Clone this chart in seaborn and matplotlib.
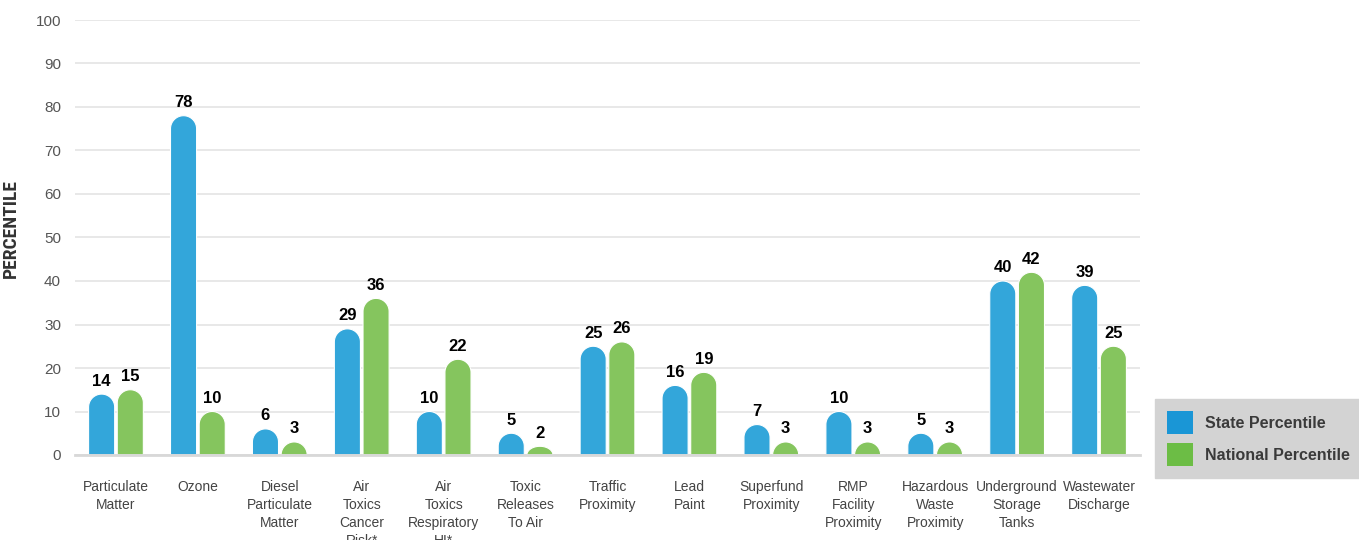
import numpy as np
import pandas as pd
import matplotlib
matplotlib.use("Agg")
import matplotlib.pyplot as plt
import seaborn as sns
from matplotlib.patches import Polygon, Patch

categories = ["Particulate\nMatter", "Ozone", "Diesel\nParticulate\nMatter",
              "Air\nToxics\nCancer\nRisk*", "Air\nToxics\nRespiratory\nHI*",
              "Toxic\nReleases\nTo Air", "Traffic\nProximity", "Lead\nPaint",
              "Superfund\nProximity", "RMP\nFacility\nProximity",
              "Hazardous\nWaste\nProximity", "Underground\nStorage\nTanks",
              "Wastewater\nDischarge"]
state_pct = [14, 78, 6, 29, 10, 5, 25, 16, 7, 10, 5, 40, 39]
national_pct = [15, 10, 3, 36, 22, 2, 26, 19, 3, 3, 3, 42, 25]
series = ["State Percentile", "National Percentile"]

df = pd.DataFrame({
    "category": categories * 2,
    "series": [series[0]] * len(categories) + [series[1]] * len(categories),
    "value": state_pct + national_pct,
})

bar_colors = {"State Percentile": "#33a6da", "National Percentile": "#85c55e"}
legend_colors = ["#1a96d6", "#6cbd45"]

sns.set_theme(style="white")
plt.rcParams['font.family'] = ['Liberation Sans', 'DejaVu Sans']

fig = plt.figure(figsize=(13.59, 5.40), dpi=100)
ax = fig.add_axes([75/1359, 85/540, (1140-75)/1359, 435/540])

sns.barplot(data=df, x="category", y="value", hue="series", order=categories,
            hue_order=series, palette=bar_colors, width=0.7, gap=0.09,
            ax=ax, legend=False, saturation=1)

ax.set_ylim(0, 100)
ax.set_xlim(-0.5, len(categories) - 0.5)
ax.set_yticks(range(0, 101, 10))
ax.yaxis.grid(True, color="#e4e4e4", linewidth=1.2)
ax.set_axisbelow(True)
for s in ["top", "right", "left"]:
    ax.spines[s].set_visible(False)
ax.spines["bottom"].set_color("#d8d8d8")
ax.spines["bottom"].set_linewidth(2)

ax.tick_params(axis="y", length=0, labelsize=11, labelcolor="#555555", pad=10)
ax.tick_params(axis="x", which="major", length=0, labelsize=10, labelcolor="#444444", pad=18)
ax.set_xticks(np.arange(-0.5, len(categories), 1.0), minor=True)
ax.tick_params(axis="x", which="minor", length=8, color="#d8d8d8", width=1.2)
for lab in ax.get_xticklabels():
    lab.set_linespacing(1.35)
ax.set_xlabel("")
ax.set_ylabel("PERCENTILE", fontsize=14, fontweight="bold", color="#333333",
              family=["Roboto Condensed", "Liberation Sans Narrow", "DejaVu Sans"])
ax.yaxis.set_label_coords(-0.052, 0.52)

# rounded tops
fig.canvas.draw()
p0 = ax.transData.transform((0, 0))
for cont in ax.containers:
    for bar in cont.patches:
        x0 = bar.get_x(); w = bar.get_width(); h = bar.get_height()
        c = bar.get_facecolor()
        bar.set_visible(False)
        px0 = ax.transData.transform((x0, 0))[0]
        px1 = ax.transData.transform((x0 + w, 0))[0]
        rpx = (px1 - px0) / 2
        ry_full = ax.transData.inverted().transform((p0[0], p0[1] + rpx))[1]
        ry = min(ry_full, h)
        rx = w / 2
        cx = x0 + rx
        base = h - ry
        ang = np.linspace(0, np.pi, 60)
        verts = [(x0, 0), (x0 + w, 0), (x0 + w, base)]
        verts += [(cx + rx * np.cos(a), base + ry * np.sin(a)) for a in ang]
        verts += [(x0, base)]
        ax.add_patch(Polygon(verts, closed=True, facecolor=c, edgecolor="white",
                             linewidth=0.8, zorder=2))
    ax.bar_label(cont, padding=4, fontsize=12, fontweight="bold", color="#000000")

handles = [Patch(facecolor=legend_colors[i], edgecolor="none", label=series[i]) for i in range(2)]
leg = fig.legend(handles=handles, loc="lower left", bbox_to_anchor=(1155/1359, 62/540),
                 frameon=True, fancybox=False, facecolor="#d3d3d3", edgecolor="#d3d3d3",
                 handlelength=1.6, handleheight=1.8, handletextpad=0.75, labelspacing=0.6,
                 borderpad=0.75, borderaxespad=0, prop={"weight": "bold", "size": 11.5})
leg.get_frame().set_alpha(1)
for t in leg.get_texts():
    t.set_color("#3a3a3a")

fig.savefig("out.png", dpi=100)
